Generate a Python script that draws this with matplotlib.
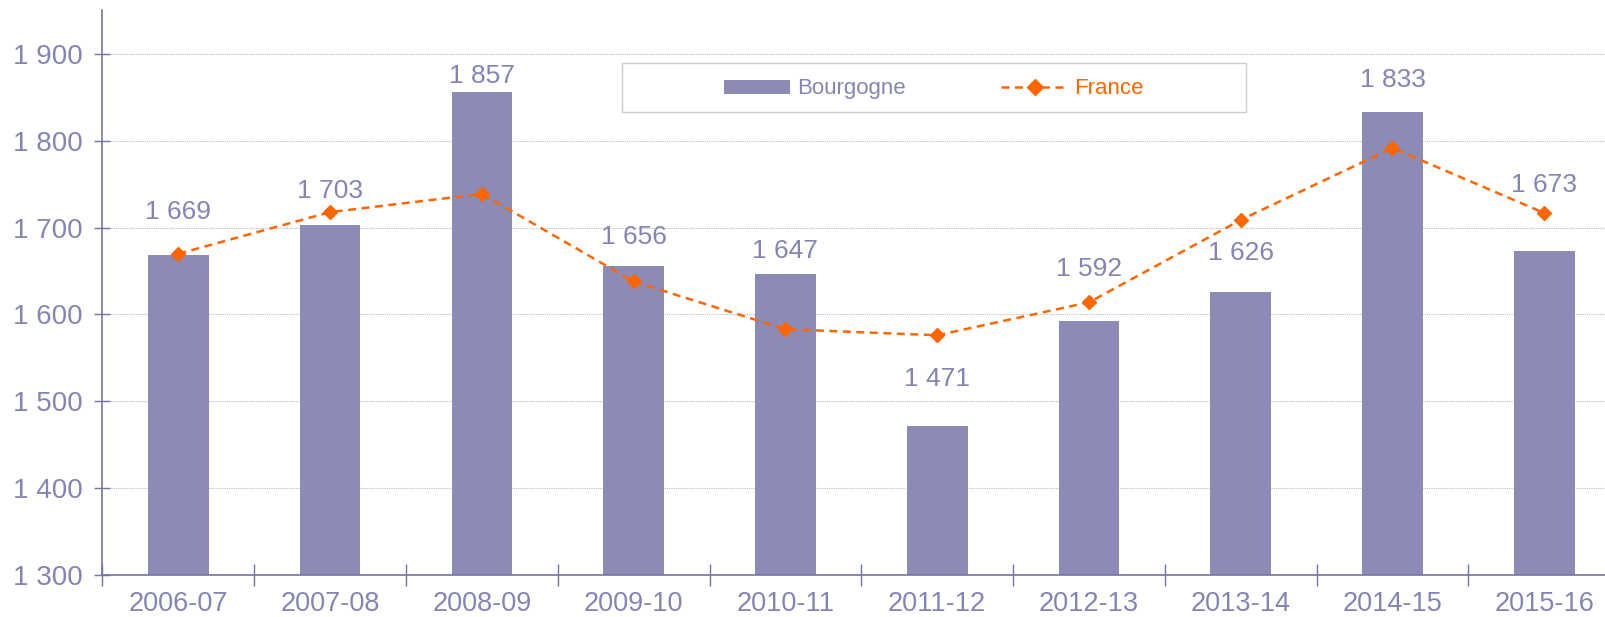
import matplotlib
matplotlib.use("Agg")
import matplotlib.pyplot as plt
from matplotlib.ticker import FuncFormatter
from matplotlib.patches import Rectangle

plt.rcParams['font.family'] = ['Liberation Sans', 'DejaVu Sans']

annees = ['2006-07', '2007-08', '2008-09', '2009-10', '2010-11',
          '2011-12', '2012-13', '2013-14', '2014-15', '2015-16']
bourgogne = [1669, 1703, 1857, 1656, 1647, 1471, 1592, 1626, 1833, 1673]
france = [1670, 1718, 1739, 1638, 1583, 1576, 1614, 1709, 1792, 1717]

# décalage vertical des étiquettes (pixels au-dessus du haut de la barre)
decal = [43, 34, 16, 29, 23, 47, 52, 39, 32, 66]

violet = '#8B8BB5'
texte = '#8585B5'
orange = '#FF6600'
axe = '#7474A8'

fig = plt.figure(figsize=(16.06, 6.17), dpi=100)
ax = fig.add_axes([0.0638, 0.0687, 0.945, 0.915])

x = range(len(annees))
barres = ax.bar(x, bourgogne, width=0.4, color=violet, label='Bourgogne', zorder=2)
ligne, = ax.plot(x, france, color=orange, ls='--', lw=1.8, marker='D', ms=7,
                 label='France', zorder=3, dashes=(3.2, 2.2))

for i, v in enumerate(bourgogne):
    ax.annotate(f'{v:,}'.replace(',', ' '), (i, v), xytext=(0, decal[i]),
                textcoords='offset pixels', ha='center', va='center',
                fontsize=19, color=texte)

ax.set_xlim(-0.5, len(annees) - 0.5)
ax.set_ylim(1300, 1951)
ax.set_yticks(range(1300, 2000, 100))
ax.yaxis.set_major_formatter(FuncFormatter(lambda v, p: f'{int(v):,}'.replace(',', ' ')))
ax.set_xticks([i + 0.5 for i in range(-1, len(annees))], minor=False)
ax.set_xticklabels([])
ax.set_xticks(list(x), minor=True)
ax.set_xticklabels(annees, minor=True)

ax.tick_params(axis='y', which='major', direction='inout', length=12, width=1,
               color=axe, labelcolor=texte, labelsize=20, pad=8)
ax.tick_params(axis='x', which='major', direction='inout', length=16, width=1,
               color=axe)
ax.tick_params(axis='x', which='minor', length=0, labelcolor=texte,
               labelsize=19.5, pad=12)

for s in ['top', 'right']:
    ax.spines[s].set_visible(False)
for s in ['left', 'bottom']:
    ax.spines[s].set_color(axe)
    ax.spines[s].set_linewidth(1.2)

for yv in range(1400, 2000, 100):
    ax.axhline(yv, color='#BDBDBD', lw=0.8, ls=(0, (1, 1)), zorder=1)

# cadre de la légende
cadre = Rectangle((0.387, 0.819), 0.389, 0.0796, transform=fig.transFigure,
                  facecolor='white', edgecolor='#CCCCCC', lw=1, zorder=5)
fig.patches.append(cadre)

leg = fig.legend([barres, ligne], ['Bourgogne', 'France'], loc='center',
                 bbox_to_anchor=(0.387 + 0.389 / 2, 0.816 + 0.0796 / 2),
                 ncol=2, fontsize=16, handlelength=3.0, handleheight=0.6,
                 frameon=False, columnspacing=4.3, handletextpad=0.3,
                 markerscale=1.1)
leg.get_texts()[0].set_color(texte)
leg.get_texts()[1].set_color(orange)

fig.savefig('out.png', dpi=100)
